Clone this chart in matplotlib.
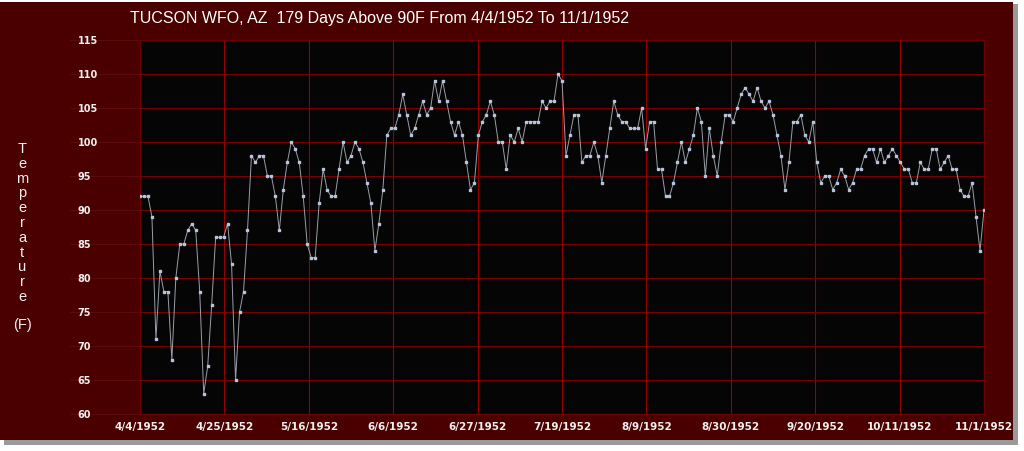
import matplotlib
matplotlib.use("Agg")
import matplotlib.pyplot as plt
from matplotlib.patches import Rectangle
import numpy as np

title = "TUCSON WFO, AZ  179 Days Above 90F From 4/4/1952 To 11/1/1952"
x_labels = ["4/4/1952", "4/25/1952", "5/16/1952", "6/6/1952", "6/27/1952", "7/19/1952",
            "8/9/1952", "8/30/1952", "9/20/1952", "10/11/1952", "11/1/1952"]
y_ticks = [60, 65, 70, 75, 80, 85, 90, 95, 100, 105, 110, 115]

temps_apr_may = [92, 92, 92, 89, 71, 81, 78, 78, 68, 80, 85, 85, 87, 88, 87, 78, 63, 67, 76, 86,
                 86, 86, 88, 82, 65, 75, 78, 87, 98, 97, 98, 98, 95, 95, 92, 87, 93, 97, 100, 99,
                 97, 92, 85, 83, 83, 91, 96, 93, 92, 92, 96, 100, 97, 98, 100, 99]
temps_jun_jul = [97, 94, 91, 84, 88, 93, 101, 102, 102, 104, 107, 104, 101, 102, 104, 106, 104, 105,
                 109, 106, 109, 106, 103, 101, 103, 101, 97, 93, 94, 101, 103, 104, 106, 104, 100,
                 100, 96, 101, 100, 102, 100, 103, 103, 103, 103, 106, 105, 106, 106, 110, 109, 98,
                 101, 104, 104]
temps_jul_aug = [97, 98, 98, 100, 98, 94, 98, 102, 106, 104, 103, 103, 102, 102, 102, 105, 99, 103,
                 103, 96, 96, 92, 92, 94, 97, 100, 97, 99, 101, 105, 103, 95, 102, 98, 95, 100, 104,
                 104, 103, 105, 107, 108, 107, 106, 108, 106, 105, 106, 104, 101, 98, 93, 97, 103,
                 103, 104]
temps_sep_nov = [101, 100, 103, 97, 94, 95, 95, 93, 94, 96, 95, 93, 94, 96, 96, 98, 99, 99, 97, 99,
                 97, 98, 99, 98, 97, 96, 96, 94, 94, 97, 96, 96, 99, 99, 96, 97, 98, 96, 96, 93, 92,
                 92, 94, 89, 84, 90]

temps = temps_apr_may + temps_jun_jul + temps_jul_aug + temps_sep_nov
days = np.arange(len(temps))

W, H = 1024, 451
fig = plt.figure(figsize=(W / 100, H / 100), dpi=100, facecolor="white")

# panel shadow and panel
fig.patches.append(Rectangle((4 / W, (H - 445) / H), 1014 / W, 441 / H, transform=fig.transFigure,
                             facecolor="#9a9a9a", edgecolor="none", zorder=-3))
fig.patches.append(Rectangle((0, (H - 440) / H), 1013 / W, 438 / H, transform=fig.transFigure,
                             facecolor="#4b0000", edgecolor="none", zorder=-2))

ax = fig.add_axes([140 / W, (H - 414) / H, 844 / W, 374 / H])
ax.set_facecolor("#050505")

n = len(temps) - 1
ax.plot(days, temps, color="#9a9ea6", lw=0.7, zorder=3,
        marker="s", markersize=2.0, markerfacecolor="#b8c4dc", markeredgecolor="#b8c4dc")

ax.set_xlim(0, n)
ax.set_ylim(60, 115)
xt = np.linspace(0, n, len(x_labels))
ax.set_xticks(xt)
ax.set_xticklabels(x_labels)
ax.set_yticks(y_ticks)
ax.set_yticklabels([str(v) for v in y_ticks])

ax.grid(True, axis="y", color="#7a0000", lw=0.8)
ax.grid(True, axis="x", color="#950000", lw=0.8)
ax.set_axisbelow(True)
for s in ax.spines.values():
    s.set_color("#6a0000")
    s.set_linewidth(1.0)

ax.tick_params(axis="both", length=0, colors="white")
ax.tick_params(axis="x", pad=6)
ax.tick_params(axis="y", pad=45)
for lab in ax.get_xticklabels():
    lab.set_fontsize(7.5)
    lab.set_fontweight("bold")
    lab.set_color("#f0f0f0")
for lab in ax.get_yticklabels():
    lab.set_fontsize(7)
    lab.set_fontweight("bold")
    lab.set_ha("left")
    lab.set_color("#f0f0f0")

# faint margin lines at y ticks
for v in y_ticks:
    yf = ((H - 414) + (v - 60) / 55 * 374) / H
    fig.add_artist(plt.Line2D([70 / W, 140 / W], [yf, yf], transform=fig.transFigure,
                              color="#5a0a0a", lw=0.8, zorder=-1))

fig.text(130 / W, 1 - 18 / H, title, color="white", fontsize=11.5, ha="left", va="center",
         family="Liberation Sans")

ylab = "Temperature"
for i, ch in enumerate(ylab):
    fig.text(22 / W, 1 - (149 + i * 14.8) / H, ch, color="#f0f0f0", fontsize=10.5,
             ha="center", va="center", family="Liberation Sans")
fig.text(22 / W, 1 - 325 / H, "(F)", color="#f0f0f0", fontsize=10.5, ha="center", va="center",
         family="Liberation Sans")

fig.savefig("out.png", dpi=100, facecolor=fig.get_facecolor())
